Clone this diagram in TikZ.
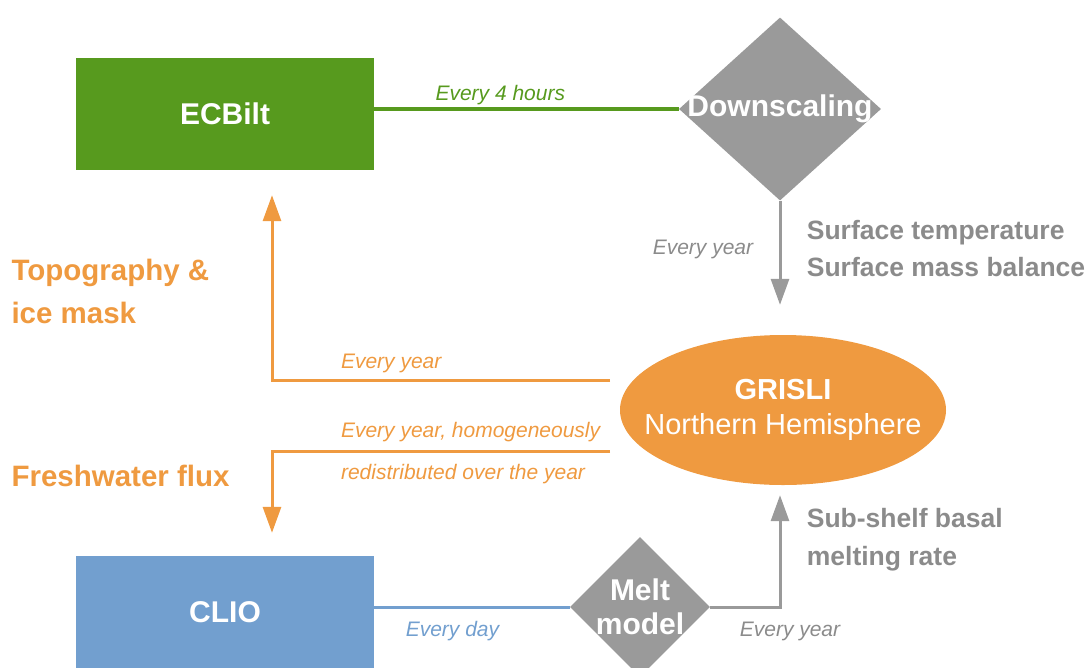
\documentclass[tikz,border=0pt]{standalone}
\usepackage{fontspec}
\setmainfont{Liberation Sans}
\usetikzlibrary{shapes.geometric,arrows.meta,positioning}
\definecolor{ecgreen}{HTML}{579A1E}
\definecolor{clioblue}{HTML}{729FCF}
\definecolor{grisorange}{HTML}{EF9A40}
\definecolor{coupgray}{HTML}{9A9A9A}
\tikzset{
	model/.style={
		% The shape:
		rectangle,minimum width=298,minimum height=112,
		% The text:
		text=white,font=\fontsize{30}{34}\selectfont\bfseries,
	}}
\tikzset{
	coupler/.style={
		% The shape:
		diamond,inner sep=0pt,fill=coupgray,
		% The text goes in a centred label
		label={[text=white,align=center,font=\fontsize{30}{34}\selectfont\bfseries]center:#1},
	}}
\tikzset{
	every/.style={font=\fontsize{21}{24}\selectfont\itshape},
	field/.style={align=left,font=\fontsize{26.5}{37}\selectfont\bfseries,text=coupgray!90!black},
	flux/.style={
		line width=3pt,
		-{Triangle[length=26pt,width=18pt]},
	}}

\begin{document}
\begin{tikzpicture}[x=1pt,y=-1pt]
	\useasboundingbox (0,0) rectangle (1089,667);
	% the models
	\node[model,fill=ecgreen] (ecbilt) at (225,114) {ECBilt};
	\node[model,fill=clioblue] (clio) at (225,612) {CLIO};
	\node[ellipse,fill=grisorange,minimum width=326,minimum height=150,inner sep=0pt,
		label={[text=white,align=center,font=\fontsize{29}{35}\selectfont]center:{\textbf{GRISLI}\\Northern Hemisphere}}] (grisli) at (783,410) {};
	% the couplers
	\node[coupler={Downscaling},minimum width=202,minimum height=183] (down) at (780,109) {};
	\node[coupler={Melt\\model},minimum width=140,minimum height=140] (melt) at (640,607) {};
	% free ends at the ice sheet
	\coordinate (topo-start) at (610,380);
	\coordinate (fw-start) at (610,451);
	% atmosphere
	\draw[line width=3.5pt,ecgreen] (ecbilt.east |- down.west) -- (down.west)
		node[pos=0.414,above=-1pt,every,text=ecgreen] {Every 4 hours};
	\draw[flux,coupgray,shorten >=30pt] (down.south) -- (down.south |- grisli.north)
		node[pos=0.36,left=22pt,every,text=coupgray!90!black] (sm-every) {Every year}
		node[pos=0.36,right=22pt,field] (sm-fields) {Surface temperature\\Surface mass balance};
	% ice sheet to the models
	\draw[flux,grisorange,shorten >=25pt] (topo-start) -| ([xshift=47pt]ecbilt.south)
		node[pos=0.405,above right=2pt and 0pt,every,text=grisorange] {Every year};
	\draw[flux,grisorange,shorten >=23pt] (fw-start) -| ([xshift=47pt]clio.north)
		node[pos=0.405,above right=4pt and 0pt,every,text=grisorange] {Every year, homogeneously}
		node[pos=0.405,below right=8pt and 0pt,every,text=grisorange] {redistributed over the year};
	\node[anchor=west,align=left,text=grisorange,font=\fontsize{29.5}{43}\selectfont\bfseries] (topo) at (8,291) {Topography \&\\ice mask};
	\node[anchor=west,text=grisorange,font=\fontsize{29.5}{34}\selectfont\bfseries] (fw) at (8,476) {Freshwater flux};
	% ocean
	\draw[line width=3pt,clioblue] (clio.east |- melt.west) -- (melt.west)
		node[pos=0.40,below=9pt,every,text=clioblue] {Every day};
	\draw[flux,coupgray,shorten >=10pt] (melt.east) -| (down.south |- grisli.south)
		node[pos=0.5,below=10pt,xshift=10pt,every,text=coupgray!90!black] {Every year}
		node[pos=0.775,right=22pt,field,font=\fontsize{26.5}{38}\selectfont\bfseries] (bm-fields) {Sub-shelf basal\\melting rate};
\end{tikzpicture}
\end{document}
